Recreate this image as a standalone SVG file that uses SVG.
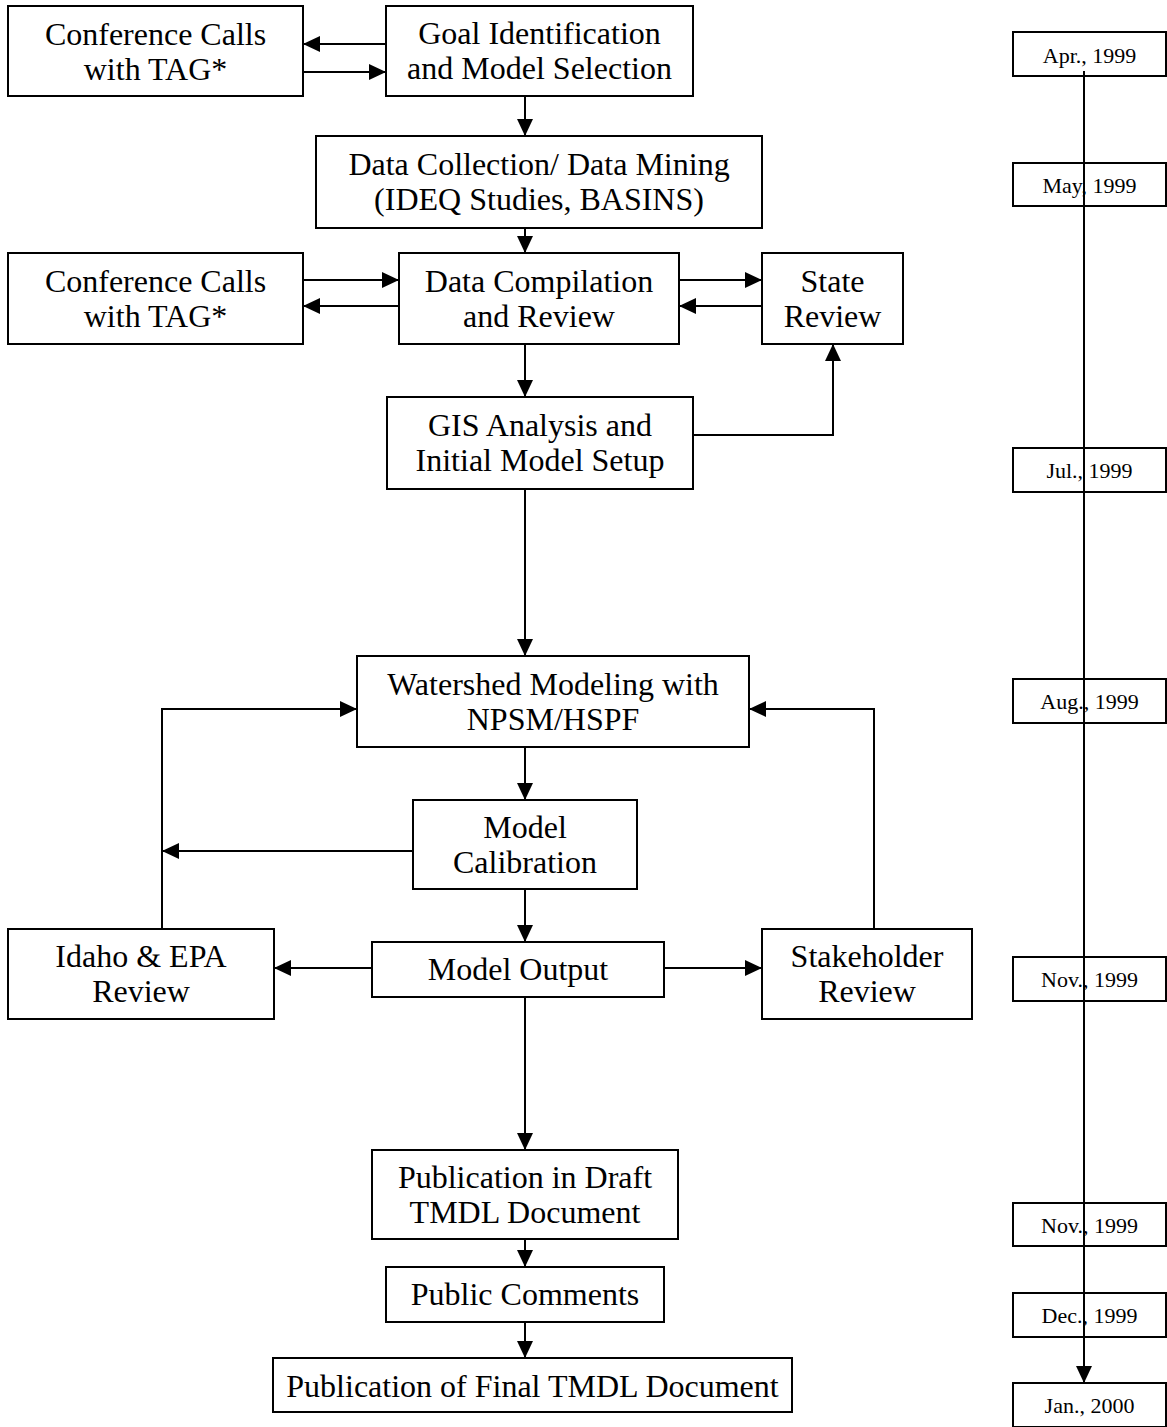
<svg xmlns="http://www.w3.org/2000/svg" width="1167" height="1427" viewBox="0 0 1167 1427">
<style>
.box{fill:#fff;stroke:#000;stroke-width:2}
.t{font-family:"Liberation Serif","Times New Roman",serif;font-size:32px;fill:#000;text-anchor:middle}
.d{font-family:"Liberation Serif","Times New Roman",serif;font-size:22px;fill:#000;text-anchor:middle}
.c{fill:none;stroke:#000;stroke-width:2}
</style>
<defs>
<marker id="ah" markerUnits="userSpaceOnUse" markerWidth="17" markerHeight="16" refX="17" refY="8" orient="auto">
<path d="M0,0 L17,8 L0,16 z" fill="#000"/>
</marker>
</defs>
<rect width="1167" height="1427" fill="#fff"/>
<g id="conf1"><rect class="box" x="8" y="6" width="295" height="90"/><text class="t" x="155.5" y="45">Conference Calls</text><text class="t" x="155.5" y="80">with TAG*</text></g>
<g id="goal"><rect class="box" x="386" y="6" width="307" height="90"/><text class="t" x="539.5" y="44">Goal Identification</text><text class="t" x="539.5" y="79">and Model Selection</text></g>
<g id="datacoll"><rect class="box" x="316" y="136" width="446" height="92"/><text class="t" x="539" y="175">Data Collection/ Data Mining</text><text class="t" x="539" y="210">(IDEQ Studies, BASINS)</text></g>
<g id="conf2"><rect class="box" x="8" y="253" width="295" height="91"/><text class="t" x="155.5" y="292">Conference Calls</text><text class="t" x="155.5" y="327">with TAG*</text></g>
<g id="datacomp"><rect class="box" x="399" y="253" width="280" height="91"/><text class="t" x="539" y="292">Data Compilation</text><text class="t" x="539" y="327">and Review</text></g>
<g id="state"><rect class="box" x="762" y="253" width="141" height="91"/><text class="t" x="832.5" y="292">State</text><text class="t" x="832.5" y="327">Review</text></g>
<g id="gis"><rect class="box" x="387" y="397" width="306" height="92"/><text class="t" x="540" y="436">GIS Analysis and</text><text class="t" x="540" y="471">Initial Model Setup</text></g>
<g id="watershed"><rect class="box" x="357" y="656" width="392" height="91"/><text class="t" x="553" y="695">Watershed Modeling with</text><text class="t" x="553" y="730">NPSM/HSPF</text></g>
<g id="calib"><rect class="box" x="413" y="800" width="224" height="89"/><text class="t" x="525" y="838">Model</text><text class="t" x="525" y="873">Calibration</text></g>
<g id="idaho"><rect class="box" x="8" y="929" width="266" height="90"/><text class="t" x="141" y="967">Idaho &amp; EPA</text><text class="t" x="141" y="1002">Review</text></g>
<g id="output"><rect class="box" x="372" y="942" width="292" height="55"/><text class="t" x="518" y="980">Model Output</text></g>
<g id="stake"><rect class="box" x="762" y="929" width="210" height="90"/><text class="t" x="867" y="967">Stakeholder</text><text class="t" x="867" y="1002">Review</text></g>
<g id="pubdraft"><rect class="box" x="372" y="1150" width="306" height="89"/><text class="t" x="525" y="1188">Publication in Draft</text><text class="t" x="525" y="1223">TMDL Document</text></g>
<g id="public"><rect class="box" x="386" y="1267" width="278" height="55"/><text class="t" x="525" y="1305">Public Comments</text></g>
<g id="final"><rect class="box" x="273" y="1358" width="519" height="54"/><text class="t" x="532.5" y="1397">Publication of Final TMDL Document</text></g>
<g id="t-apr"><rect class="box" x="1013" y="32" width="153" height="44"/><text class="d" x="1089.5" y="63">Apr., 1999</text></g>
<g id="t-may"><rect class="box" x="1013" y="163" width="153" height="43"/><text class="d" x="1089.5" y="193">May, 1999</text></g>
<g id="t-jul"><rect class="box" x="1013" y="448" width="153" height="44"/><text class="d" x="1089.5" y="478">Jul., 1999</text></g>
<g id="t-aug"><rect class="box" x="1013" y="679" width="153" height="44"/><text class="d" x="1089.5" y="709">Aug., 1999</text></g>
<g id="t-nov1"><rect class="box" x="1013" y="957" width="153" height="44"/><text class="d" x="1089.5" y="987">Nov., 1999</text></g>
<g id="t-nov2"><rect class="box" x="1013" y="1203" width="153" height="43"/><text class="d" x="1089.5" y="1233">Nov., 1999</text></g>
<g id="t-dec"><rect class="box" x="1013" y="1293" width="153" height="44"/><text class="d" x="1089.5" y="1323">Dec., 1999</text></g>
<g id="t-jan"><rect class="box" x="1013" y="1383" width="153" height="44"/><text class="d" x="1089.5" y="1413">Jan., 2000</text></g>
<g id="connectors">
<path class="c" marker-end="url(#ah)" d="M386,44 L303,44"/>
<path class="c" marker-end="url(#ah)" d="M303,72 L386,72"/>
<path class="c" marker-end="url(#ah)" d="M525,96 L525,136"/>
<path class="c" marker-end="url(#ah)" d="M525,228 L525,253"/>
<path class="c" marker-end="url(#ah)" d="M303,280 L399,280"/>
<path class="c" marker-end="url(#ah)" d="M399,306 L303,306"/>
<path class="c" marker-end="url(#ah)" d="M679,280 L762,280"/>
<path class="c" marker-end="url(#ah)" d="M762,306 L679,306"/>
<path class="c" marker-end="url(#ah)" d="M525,344 L525,397"/>
<path class="c" marker-end="url(#ah)" d="M693,435 L833,435 L833,344"/>
<path class="c" marker-end="url(#ah)" d="M525,489 L525,656"/>
<path class="c" marker-end="url(#ah)" d="M525,747 L525,800"/>
<path class="c" marker-end="url(#ah)" d="M413,851 L162,851"/>
<path class="c" marker-end="url(#ah)" d="M162,929 L162,709 L357,709"/>
<path class="c" marker-end="url(#ah)" d="M874,929 L874,709 L749,709"/>
<path class="c" marker-end="url(#ah)" d="M525,889 L525,942"/>
<path class="c" marker-end="url(#ah)" d="M372,968 L274,968"/>
<path class="c" marker-end="url(#ah)" d="M664,968 L762,968"/>
<path class="c" marker-end="url(#ah)" d="M525,997 L525,1150"/>
<path class="c" marker-end="url(#ah)" d="M525,1239 L525,1267"/>
<path class="c" marker-end="url(#ah)" d="M525,1322 L525,1358"/>
<path class="c" marker-end="url(#ah)" d="M1084,71 L1084,1383"/>
</g>
</svg>
